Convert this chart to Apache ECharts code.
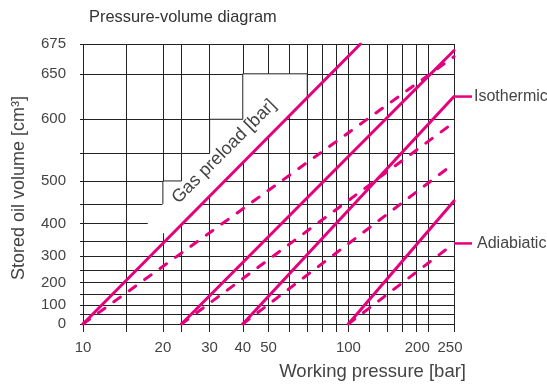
<!DOCTYPE html>
<html>
<head>
<meta charset="utf-8">
<script src="https://cdn.jsdelivr.net/npm/echarts@6/dist/echarts.min.js"></script>
<style>
  html, body { margin: 0; padding: 0; background: #fff; }
  #chart { width: 547px; height: 386px; }
</style>
</head>
<body>
<div id="chart"></div>
<script>
// working pressure [bar]
const xGridValues = [10, 14.5, 20, 23.5, 30, 40, 50, 60, 70, 80, 90, 100, 120, 140, 160, 180, 200, 250];
const xLabelValues = [10, 20, 30, 40, 50, 100, 200, 250];
// stored oil volume [cm3]
const yGridValues = [0, 50, 100, 150, 200, 250, 300, 350, 400, 450, 500, 550, 600, 650, 675];
const yLabelValues = [0, 100, 200, 300, 400, 500, 600, 650, 675];

// each line: [start, end] as [bar, cm3]
const isoLines = [
  [[10, 0], [111, 675]],
  [[23.5, 0], [250, 670]],
  [[40, 0], [250, 627]],
  [[100, 0], [250, 457]]
];
const adiaLines = [
  [[10, 0], [250, 665]],
  [[23.5, 0], [250, 596]],
  [[40, 0], [250, 533]],
  [[100, 0], [250, 342]]
];

// stepped edge of the blank band behind the "Gas preload" text
const blankStairs = [[70, 650], [40, 650], [40, 600], [30, 600], [30, 550], [23.5, 550], [23.5, 500], [20, 500], [20, 450]];
const blankCut = [[17.5, 400], [20, 374]];

const PINK = '#e5007d';
const GRID = '#222';
const TXT = '#444';
const FONT = '"Liberation Sans", Arial, sans-serif';

// y scale of the diagram is not linear: u = -ln(1 - V/V0)
const V0 = 780;
const toU = v => -Math.log(1 - v / V0);
const fromU = u => V0 * (1 - Math.exp(-u));
const tr = d => [Math.log10(d[0]), toU(d[1])];

// point on a line (straight in the transformed space) at pressure p
function onLine(line, p) {
  const a = tr(line[0]), b = tr(line[1]);
  const x = Math.log10(p);
  const t = (x - a[0]) / (b[0] - a[0]);
  return [x, a[1] + t * (b[1] - a[1])];
}

const gasLine = isoLines[0];
const blankShape = [onLine(gasLine, 70)]
  .concat(blankStairs.map(tr), blankCut.map(tr), [onLine(gasLine, 21)]);
const stairEdge = [onLine(gasLine, 70)].concat(blankStairs.map(tr));

var chart = echarts.init(document.getElementById('chart'));

const series = [
  {
    type: 'custom',
    silent: true,
    z: 3,
    renderItem: (params, api) => ({
      type: 'polygon',
      shape: { points: blankShape.map(d => api.coord(d)) },
      style: { fill: '#fff' }
    }),
    data: [[1, 0]]
  },
  {
    type: 'line',
    z: 4,
    silent: true,
    symbol: 'none',
    data: stairEdge,
    lineStyle: { color: GRID, width: 1 }
  }
];
adiaLines.forEach(l => series.push({
  type: 'line', z: 5, symbol: 'none', silent: true,
  data: l.map(tr),
  lineStyle: { color: PINK, width: 3, type: [8, 11], cap: 'round' }
}));
isoLines.forEach(l => series.push({
  type: 'line', z: 6, symbol: 'none', silent: true,
  data: l.map(tr),
  lineStyle: { color: PINK, width: 3, cap: 'round' }
}));

var option = {
  animation: false,
  title: {
    text: 'Pressure-volume diagram',
    left: 89, top: 9, padding: 0,
    textStyle: { fontFamily: FONT, fontSize: 16.4, fontWeight: 'normal', color: '#333' }
  },
  grid: { left: 83, right: 93, top: 44, bottom: 62 },
  xAxis: {
    type: 'value',
    min: Math.log10(10),
    max: Math.log10(250),
    axisLine: { show: false },
    axisTick: { show: true, length: 8, customValues: xGridValues.map(Math.log10), lineStyle: { color: GRID } },
    splitLine: { show: true, lineStyle: { color: GRID, width: 1 } },
    axisLabel: {
      customValues: xLabelValues.map(Math.log10),
      margin: 16,
      color: TXT, fontFamily: FONT, fontSize: 15,
      formatter: v => {
        const p = Math.round(Math.pow(10, v));
        if (p === 200) return '{a|200}';
        if (p === 250) return '{b|250}';
        return String(p);
      },
      rich: {
        a: { padding: [0, 22, 0, 0], color: TXT, fontFamily: FONT, fontSize: 15 },
        b: { padding: [0, 8, 0, 0], color: TXT, fontFamily: FONT, fontSize: 15 }
      }
    }
  },
  yAxis: {
    type: 'value',
    min: 0,
    max: toU(675),
    axisLine: { show: false },
    axisTick: { show: true, length: 3, customValues: yGridValues.map(toU), lineStyle: { color: GRID } },
    splitLine: { show: true, lineStyle: { color: GRID, width: 1 } },
    axisLabel: {
      customValues: yLabelValues.map(toU),
      margin: 17,
      color: TXT, fontFamily: FONT, fontSize: 15,
      formatter: v => String(Math.round(fromU(v)))
    }
  },
  series: series
};

chart.setOption(option);

// texts placed from data points
const px = d => chart.convertToPixel({ gridIndex: 0 }, tr(d));
const gasAt = px([34, 553]);
const isoEnd = px(isoLines[2][1]);
const adiaEnd = px(adiaLines[3][1]);

chart.setOption({
  graphic: [
    {
      type: 'text', x: gasAt[0], y: gasAt[1], rotation: Math.PI / 4, z: 10,
      style: { text: 'Gas preload [bar]', fill: TXT, fontFamily: FONT, fontSize: 18, align: 'center', verticalAlign: 'middle' }
    },
    {
      type: 'line', z: 10,
      shape: { x1: isoEnd[0], y1: isoEnd[1], x2: isoEnd[0] + 18, y2: isoEnd[1] },
      style: { stroke: PINK, lineWidth: 2.5 }
    },
    {
      type: 'text', x: isoEnd[0] + 20, y: isoEnd[1], z: 10,
      style: { text: 'Isothermic', fill: TXT, fontFamily: FONT, fontSize: 16, align: 'left', verticalAlign: 'middle' }
    },
    {
      type: 'line', z: 10,
      shape: { x1: adiaEnd[0], y1: adiaEnd[1], x2: adiaEnd[0] + 18, y2: adiaEnd[1] },
      style: { stroke: PINK, lineWidth: 2.5 }
    },
    {
      type: 'text', x: adiaEnd[0] + 23, y: adiaEnd[1], z: 10,
      style: { text: 'Adiabiatic', fill: TXT, fontFamily: FONT, fontSize: 16, align: 'left', verticalAlign: 'middle' }
    },
    {
      type: 'text', x: 466, y: 372, z: 10,
      style: { text: 'Working pressure [bar]', fill: TXT, fontFamily: FONT, fontSize: 18.5, align: 'right', verticalAlign: 'middle' }
    },
    {
      type: 'text', x: 19, y: 188, rotation: Math.PI / 2, z: 10,
      style: { text: 'Stored oil volume [cm³]', fill: TXT, fontFamily: FONT, fontSize: 18, align: 'center', verticalAlign: 'middle' }
    }
  ]
});
</script>
</body>
</html>
